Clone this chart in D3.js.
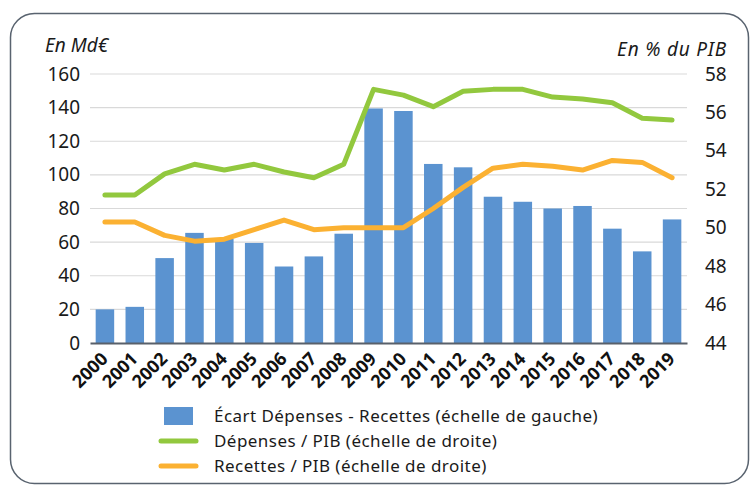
<!DOCTYPE html>
<html>
<head>
<meta charset="utf-8">
<script src="https://cdn.jsdelivr.net/npm/d3@7"></script>
<style>
  body { margin: 0; background: #fff; }
  svg { display: block; font-family: "Noto Sans", "Open Sans", sans-serif; }
</style>
</head>
<body>
<svg width="750" height="486"></svg>
<script>
const YEARS = d3.range(2000, 2020).map(String);
// Écart Dépenses - Recettes, Md€ (left axis)
const ECART = [20, 21.5, 50.5, 65.5, 62, 59.5, 45.5, 51.5, 65, 139.5, 138, 106.5, 104.5, 87, 84, 80, 81.5, 68, 54.5, 73.5];
// Dépenses / PIB, % (right axis)
const DEPENSES = [51.7, 51.7, 52.8, 53.3, 53.0, 53.3, 52.9, 52.6, 53.3, 57.2, 56.9, 56.3, 57.1, 57.2, 57.2, 56.8, 56.7, 56.5, 55.7, 55.6];
// Recettes / PIB, % (right axis)
const RECETTES = [50.3, 50.3, 49.6, 49.3, 49.4, 49.9, 50.4, 49.9, 50.0, 50.0, 50.0, 51.0, 52.1, 53.1, 53.3, 53.2, 53.0, 53.5, 53.4, 52.6];
const LEFT_TICKS = [0, 20, 40, 60, 80, 100, 120, 140, 160];
const RIGHT_TICKS = [44, 46, 48, 50, 52, 54, 56, 58];
const LEGEND = [
  {label: 'Écart Dépenses - Recettes (échelle de gauche)', type: 'bar', color: '#5b93d0'},
  {label: 'Dépenses / PIB (échelle de droite)', type: 'line', color: '#92c83e'},
  {label: 'Recettes / PIB (échelle de droite)', type: 'line', color: '#fbb132'}
];

const svg = d3.select('svg');
const plotL = 90, plotR = 687, plotT = 74, plotB = 343;

// frame
svg.append('rect')
  .attr('x', 10.5).attr('y', 13.5)
  .attr('width', 738).attr('height', 470)
  .attr('rx', 24)
  .attr('fill', 'none').attr('stroke', '#59636f').attr('stroke-width', 1.5);

let x = d3.scaleBand().domain(YEARS).range([plotL, plotR]).paddingInner(0.38).paddingOuter(0.19);
let yL = d3.scaleLinear().domain([0, 160]).range([plotB, plotT]);
let yR = d3.scaleLinear().domain([44, 58]).range([plotB, plotT]);

// gridlines
svg.append('g')
  .selectAll('line')
  .data(LEFT_TICKS.slice(1))
  .enter()
  .append('line')
  .attr('x1', plotL).attr('x2', plotR)
  .attr('y1', d => yL(d)).attr('y2', d => yL(d))
  .attr('stroke', '#d9d9d9').attr('stroke-width', 1.2);

// bars
svg.append('g')
  .selectAll('rect')
  .data(ECART)
  .enter()
  .append('rect')
  .attr('x', (d, i) => x(YEARS[i]))
  .attr('width', x.bandwidth())
  .attr('y', d => yL(d))
  .attr('height', d => plotB - yL(d))
  .attr('fill', '#5b93d0');

// baseline
let xAxis = d3.axisBottom(x).tickSize(0).tickFormat('');
let gx = svg.append('g').attr('transform', `translate(0,${plotB})`).call(xAxis);
gx.select('.domain').attr('stroke', '#59606a').attr('stroke-width', 2);

// rotated year labels (css transform)
let cx = d => x(d) + x.bandwidth() / 2;
svg.append('g')
  .selectAll('text')
  .data(YEARS)
  .enter()
  .append('text')
  .attr('text-anchor', 'end')
  .attr('font-size', 18).attr('font-weight', 'bold').attr('fill', '#111')
  .style('transform', d => `translate(${cx(d) + 4}px, ${plotB + 17}px) rotate(-45deg)`)
  .style('transform-origin', '0 0')
  .text(d => d);

let yAxisL = d3.axisLeft(yL).tickValues(LEFT_TICKS).tickSize(0).tickPadding(10);
let gl = svg.append('g').attr('transform', `translate(${plotL},0)`).call(yAxisL);
gl.select('.domain').remove();
gl.selectAll('text').attr('font-size', 19).attr('fill', '#1a1a1a');

let yAxisR = d3.axisRight(yR).tickValues(RIGHT_TICKS).tickSize(0).tickPadding(18);
let gr = svg.append('g').attr('transform', `translate(${plotR},0)`).call(yAxisR);
gr.select('.domain').remove();
gr.selectAll('text').attr('font-size', 19).attr('fill', '#1a1a1a');
gl.attr('font-family', null); gr.attr('font-family', null); gx.attr('font-family', null);

// lines
[[DEPENSES, LEGEND[1].color], [RECETTES, LEGEND[2].color]].forEach(([vals, col]) => {
  svg.append('path')
    .datum(vals)
    .attr('fill', 'none')
    .attr('stroke', col)
    .attr('stroke-width', 5)
    .attr('stroke-linecap', 'round')
    .attr('stroke-linejoin', 'round')
    .attr('d', d3.line().x((d, i) => cx(YEARS[i])).y(d => yR(d)));
});

// axis titles
svg.append('text').attr('x', 45).attr('y', 52)
  .attr('font-size', 19).attr('font-style', 'italic').attr('fill', '#1a1a1a')
  .text('En Md€');
svg.append('text').attr('x', 727).attr('y', 56)
  .attr('text-anchor', 'end')
  .attr('font-size', 19).attr('font-style', 'italic').attr('fill', '#1a1a1a')
  .attr('letter-spacing', 0.8)
  .text('En % du PIB');

// legend
let lg = svg.append('g');
LEGEND.forEach((d, i) => {
  let yy = 416 + i * 25;
  if (d.type === 'bar') {
    lg.append('rect').attr('x', 164).attr('y', yy - 9).attr('width', 29).attr('height', 18).attr('fill', d.color);
  } else {
    lg.append('line').attr('x1', 161).attr('x2', 196).attr('y1', yy).attr('y2', yy)
      .attr('stroke', d.color).attr('stroke-width', 5).attr('stroke-linecap', 'round');
  }
  lg.append('text').attr('x', 214).attr('y', yy + 6)
    .attr('font-size', 17).attr('fill', '#1a1a1a')
    .attr('letter-spacing', 0.45)
    .text(d.label);
});
</script>
</body>
</html>
